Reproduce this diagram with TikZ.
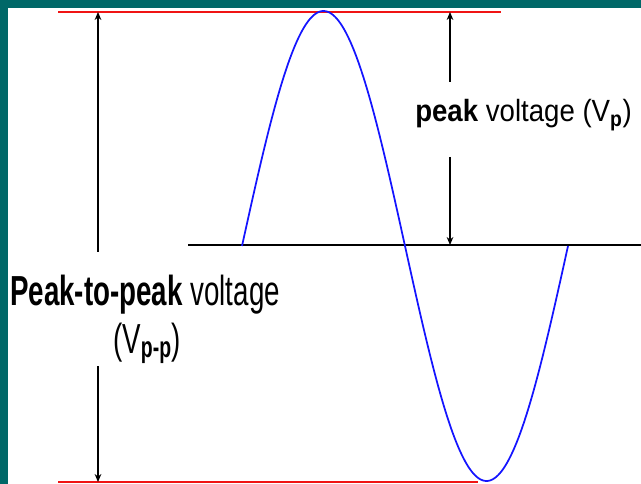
\documentclass[tikz,border=0pt]{standalone}
\usepackage{fontspec}
\usetikzlibrary{arrows.meta}
\newfontfamily\bigfont[FakeStretch=0.66]{Liberation Sans}
\newfontfamily\smallfont[FakeStretch=0.9]{Liberation Sans}
\definecolor{teal0}{RGB}{0,104,104}
\definecolor{redline}{RGB}{240,20,20}
\definecolor{bluewave}{RGB}{20,20,255}
\tikzset{
  level/.style={redline, line width=2pt},
  axisline/.style={black, line width=1.8pt},
  wave/.style={bluewave, line width=1.3pt},
  arr/.style={black, line width=0.8pt, -{Stealth[length=6pt,width=5pt]}},
  lbl/.style={inner sep=0pt, anchor=base west},
}
\begin{document}
\begin{tikzpicture}[x=0.75pt, y=-0.75pt]
\useasboundingbox (0,0) rectangle (641,484);
\fill[teal0] (0,0) rectangle (641,484);
\fill[white] (8,8) rectangle (641,484);
% levels
\draw[level] (58,12) -- (501,12);
\draw[level] (58,482) -- (478,482);
\draw[axisline] (188,245) -- (641,245);
% wave
\draw[wave] plot[domain=242:568, samples=200, smooth] (\x, {246 - 235*sin(1.10429*(\x-242))});
% labels
\node[lbl] (pp) at (10,305) {\bigfont\fontsize{31.5}{36}\selectfont\textbf{Peak-to-peak} voltage};
\node[lbl] (vpp) at (113,353) {\bigfont\fontsize{31.5}{36}\selectfont (V\textsubscript{\textbf{p-p}})};
\node[lbl] (pk) at (415,122) {\smallfont\fontsize{23}{26}\selectfont\textbf{peak} voltage (V\textsubscript{\textbf{p}})};
% coordinates
\coordinate (lt) at (98,12);
\coordinate (lb) at (98,482);
\coordinate (lu) at (98,252);
\coordinate (ld) at (98,366);
\coordinate (rt) at (450,12);
\coordinate (ru) at (450,82);
\coordinate (rd) at (450,157);
\coordinate (rb) at (450,245);
% arrows
\draw[arr] (lu) -- (lt);
\draw[arr] (ld) -- (lb);
\draw[arr] (ru) -- (rt);
\draw[arr] (rd) -- (rb);
\end{tikzpicture}
\end{document}
